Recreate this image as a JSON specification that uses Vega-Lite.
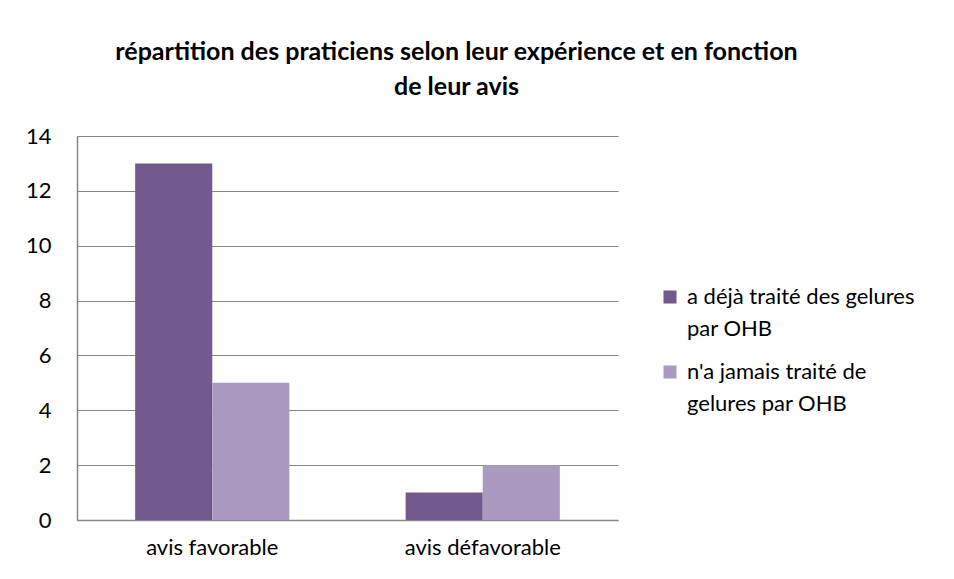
{
  "$schema": "https://vega.github.io/schema/vega-lite/v6.json",
  "width": 541,
  "height": 384,
  "autosize": {"type": "none"},
  "padding": {"left": 77, "top": 136, "right": 336, "bottom": 59},
  "background": "white",
  "title": {
    "text": ["répartition des praticiens selon leur expérience et en fonction", "de leur avis"],
    "font": "Lato",
    "fontSize": 25,
    "fontWeight": "bold",
    "color": "#000000",
    "anchor": "middle",
    "frame": "group",
    "dx": 109,
    "offset": 25,
    "lineHeight": 35
  },
  "data": {
    "values": [
      {"avis": "avis favorable", "serie": "a déjà traité des gelures par OHB", "n": 13},
      {"avis": "avis favorable", "serie": "n'a jamais traité de gelures par OHB", "n": 5},
      {"avis": "avis défavorable", "serie": "a déjà traité des gelures par OHB", "n": 1},
      {"avis": "avis défavorable", "serie": "n'a jamais traité de gelures par OHB", "n": 2}
    ]
  },
  "mark": {"type": "bar"},
  "encoding": {
    "x": {
      "field": "avis",
      "type": "nominal",
      "sort": ["avis favorable", "avis défavorable"],
      "scale": {"paddingInner": 0.43, "paddingOuter": 0.215},
      "axis": {
        "title": null,
        "labelAngle": 0,
        "labelFont": "Lato",
        "labelFontSize": 22,
        "labelColor": "#000000",
        "labelPadding": 17,
        "ticks": false,
        "domainColor": "#868686",
        "domainWidth": 1.5,
        "grid": false
      }
    },
    "xOffset": {
      "field": "serie",
      "type": "nominal",
      "sort": ["a déjà traité des gelures par OHB", "n'a jamais traité de gelures par OHB"],
      "scale": {"paddingInner": 0, "paddingOuter": 0}
    },
    "y": {
      "field": "n",
      "type": "quantitative",
      "scale": {"domain": [0, 14], "nice": false},
      "axis": {
        "title": null,
        "values": [0, 2, 4, 6, 8, 10, 12, 14],
        "labelFont": "Lato",
        "labelFontSize": 22,
        "labelColor": "#000000",
        "labelPadding": 26,
        "ticks": false,
        "domainColor": "#868686",
        "domainWidth": 1.5,
        "gridColor": "#868686",
        "gridWidth": 1
      }
    },
    "color": {
      "field": "serie",
      "type": "nominal",
      "sort": ["a déjà traité des gelures par OHB", "n'a jamais traité de gelures par OHB"],
      "scale": {"range": ["#725A8E", "#AA9AC0"]},
      "legend": {
        "title": null,
        "orient": "none",
        "legendX": 582,
        "legendY": 150,
        "symbolType": "square",
        "symbolSize": 170,
        "symbolStrokeWidth": 0,
        "symbolOpacity": 1,
        "labelFont": "Lato",
        "labelFontSize": 22,
        "labelColor": "#000000",
        "labelLimit": 400,
        "labelOffset": 6,
        "rowPadding": 21,
        "labelExpr": "datum.label == 'a déjà traité des gelures par OHB' ? ['a déjà traité des gelures', 'par OHB'] : [\"n'a jamais traité de\", 'gelures par OHB']"
      }
    }
  },
  "config": {
    "view": {"stroke": null},
    "axis": {"gridDash": []},
    "style": {"guide-label": {"lineHeight": 32}}
  }
}
